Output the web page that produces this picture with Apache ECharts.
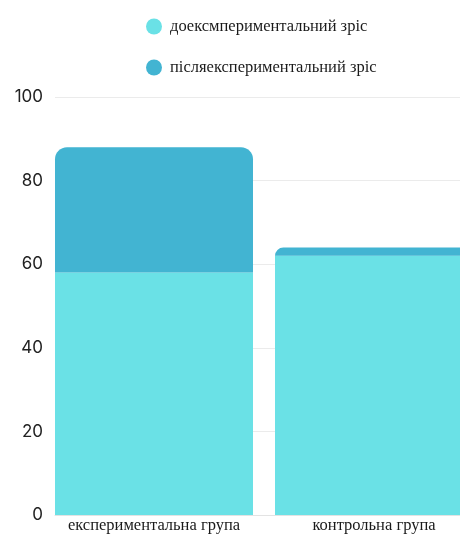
<!DOCTYPE html>
<html>
<head>
<meta charset="utf-8">
<script src="https://cdn.jsdelivr.net/npm/echarts@6/dist/echarts.min.js"></script>
<style>html,body{margin:0;padding:0;background:#fff;overflow:hidden;width:460px;height:534px}#c{width:495px;height:534px}</style>
</head>
<body>
<div id="c"></div>
<script>
const categories = ['експериментальна група', 'контрольна група'];
const seriesNames = ['доексмпериментальний зріс', 'післяекспериментальний зріс'];
const before = [58, 62];
const after = [88, 64];
const yTicks = [0, 20, 40, 60, 80, 100];

const chart = echarts.init(document.getElementById('c'), null, {renderer: 'canvas'});
const light = '#6ae1e6';
const dark = '#42b4d2';
chart.setOption({
  animation: false,
  legend: {
    orient: 'vertical',
    left: 141,
    top: 13,
    itemGap: 24,
    itemWidth: 16,
    itemHeight: 16,
    icon: 'circle',
    data: seriesNames,
    textStyle: {fontFamily: 'Liberation Serif', fontSize: 16.5, color: '#1a1a1a', padding: [0,0,0,3]}
  },
  grid: {left: 55, right: 0, top: 97, bottom: 19, containLabel: false},
  xAxis: {
    type: 'category',
    data: categories,
    axisTick: {show: false},
    axisLine: {show: true, lineStyle: {color: '#e3e3e3'}},
    axisLabel: {fontFamily: 'Liberation Serif', fontSize: 16.5, color: '#1a1a1a', margin: 2, interval: 0, padding: [0, 22, 0, 0]}
  },
  yAxis: {
    type: 'value',
    min: yTicks[0],
    max: yTicks[yTicks.length - 1],
    interval: yTicks[1] - yTicks[0],
    axisLabel: {fontFamily: 'Inter', fontSize: 17, color: '#222', margin: 12},
    axisLine: {show: false},
    axisTick: {show: false},
    splitLine: {lineStyle: {color: '#ebebeb'}}
  },
  series: [
    {
      name: seriesNames[0], type: 'bar', stack: 'a', barWidth: 198, barGap: '0%', barCategoryGap: '0%',
      itemStyle: {color: light},
      data: before
    },
    {
      name: seriesNames[1], type: 'bar', stack: 'a', barWidth: 198,
      itemStyle: {color: dark, borderRadius: [12, 12, 0, 0]},
      data: after.map((v, i) => v - before[i])
    },
    {
      name: 'spacer', type: 'bar', stack: 'gap', barWidth: 22, silent: true,
      itemStyle: {color: 'rgba(0,0,0,0)'},
      data: categories.map(() => 0)
    }
  ]
});
</script>
</body>
</html>
